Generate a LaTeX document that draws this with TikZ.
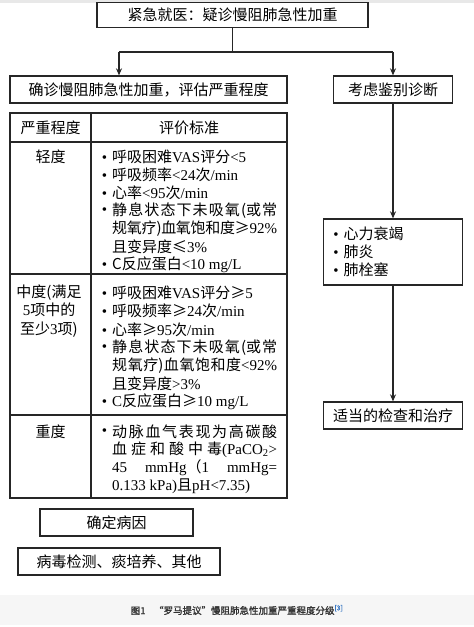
\documentclass[tikz,border=0pt]{standalone}
\usepackage{fontspec}
\setmainfont{Noto Sans CJK SC}
\newfontfamily\tnr{Liberation Serif}
\newfontfamily\capfont[FakeBold=1.5]{Noto Sans CJK SC}
\usetikzlibrary{arrows.meta, positioning, calc}
\XeTeXlinebreaklocale "zh"
\XeTeXlinebreakskip=0pt plus 2pt minus 1pt
\definecolor{linec}{HTML}{262626}
\definecolor{refblue}{HTML}{3A78C3}
\newcommand{\bul}{\leavevmode\llap{{\tnr\textbullet}\hspace{5pt}}}
\newcommand{\jl}[1]{\parbox{165pt}{\parfillskip=0pt #1\par}}

\begin{document}
\begin{tikzpicture}[x=1pt, y=-1pt, >={Stealth[length=7pt, width=6pt]},
  box/.style={draw=linec, line width=1.3pt, inner sep=0pt,
    font=\fontsize{15}{18}\selectfont},
  link/.style={draw=linec, line width=1.3pt},
  cell/.style={inner sep=0pt, font=\fontsize{15}{18}\selectfont},
  item/.style={cell, anchor=west}]
  \useasboundingbox (0,0) rectangle (474,627);

  % Bands
  \fill[gray!18] (0,0) rectangle (474,3);
  \fill[gray!7] (0,595) rectangle (474,625);

  % Boxes
  \node[box, minimum width=271, minimum height=25] (visit) at (232.5,15)
    {紧急就医：疑诊慢阻肺急性加重};
  \node[box, minimum width=277, minimum height=27] (diag) at (148.5,89.5)
    {确诊慢阻肺急性加重，评估严重程度};
  \node[box, minimum width=119, minimum height=27] (ddx) at (393,89.5)
    {考虑鉴别诊断};
  \node[box, minimum width=139, minimum height=66, align=left,
    text width=99pt, inner xsep=20pt] (cands) at (393,252)
    {\bul 心力衰竭\\\bul 肺炎\\\bul 肺栓塞};
  \node[box, minimum width=139, minimum height=27] (care) at (393,415.5)
    {适当的检查和治疗};
  \node[box, minimum width=153, minimum height=27] (cause) at (116.5,522.5)
    {确定病因};
  \node[box, minimum width=202, minimum height=27] (tests) at (119,561.5)
    {病毒检测、痰培养、其他};

  % Connectors
  \coordinate (forkl) at (119,52);
  \coordinate (forkr) at (393,52);
  \draw[link] (visit) -- (visit |- forkl);
  \draw[link] (forkl) -- (forkr);
  \draw[link, ->] (forkl) -- (forkl |- diag.north);
  \draw[link, ->] (forkr) -- (ddx);
  \draw[link, ->] (ddx) -- (cands);
  \draw[link, ->] (cands) -- (care);

  % Table grid
  \draw[link] (10,113) rectangle (287,498);
  \draw[link] (91,113) -- (91,498);
  \foreach \y in {142,274,415}
    \draw[link] (10,\y) -- (287,\y);

  % Table heads
  \node[cell] (hgrade) at (50.5,127.5) {严重程度};
  \node[cell] (hcrit) at (189,127.5) {评价标准};
  \node[cell] (mild) at (50.5,157) {轻度};
  \node[cell, align=center, font=\fontsize{15}{18.2}\selectfont] (moderate)
    at (49,311) {中度(满足\\{\tnr 5}项中的\\至少{\tnr 3}项)};
  \node[cell] (severe) at (50.5,432) {重度};

  % Mild criteria
  \foreach \txt [count=\i from 0] in {
      {\bul 呼吸困难{\tnr VAS}评分{\tnr <5}},
      {\bul 呼吸频率{\tnr <24}次{\tnr /min}},
      {\bul 心率{\tnr <95}次{\tnr /min}},
      {\bul \jl{静息状态下未吸氧(或常}},
      {\jl{规氧疗)血氧饱和度≥{\tnr 92\%}}},
      {且变异度≤{\tnr 3\%}},
      {\bul C反应蛋白{\tnr <10 mg/L}}}
    \node[item] (mild\i) at (112,{157+18*\i}) {\txt};

  % Moderate criteria
  \foreach \txt [count=\i from 0] in {
      {\bul 呼吸困难{\tnr VAS}评分≥{\tnr 5}},
      {\bul 呼吸频率≥{\tnr 24}次{\tnr /min}},
      {\bul 心率≥{\tnr 95}次{\tnr /min}},
      {\bul \jl{静息状态下未吸氧(或常}},
      {\jl{规氧疗)血氧饱和度{\tnr <92\%}}},
      {且变异度{\tnr >3\%}},
      {\bul {\tnr C}反应蛋白≥{\tnr 10 mg/L}}}
    \node[item] (mod\i) at (112,{293+18.2*\i}) {\txt};

  % Severe criteria
  \foreach \txt [count=\i from 0] in {
      {\bul \jl{动脉血气表现为高碳酸}},
      {\jl{血症和酸中毒{\tnr (PaCO\textsubscript{2}>}}},
      {\jl{{\tnr 45 mmHg}（{\tnr 1 mmHg=}}},
      {{\tnr 0.133 kPa)}且{\tnr pH<7.35)}}}
    \node[item] (sev\i) at (112,{432+18*\i}) {\txt};

  % Caption
  \node[inner sep=0pt, text=black!80, font=\capfont\fontsize{9.5}{11}\selectfont]
    (caption) at (237,610)
    {图1\hspace{0.9em}“罗马提议”慢阻肺急性加重严重程度分级\textsuperscript{\color{refblue}[3]}};
\end{tikzpicture}
\end{document}
